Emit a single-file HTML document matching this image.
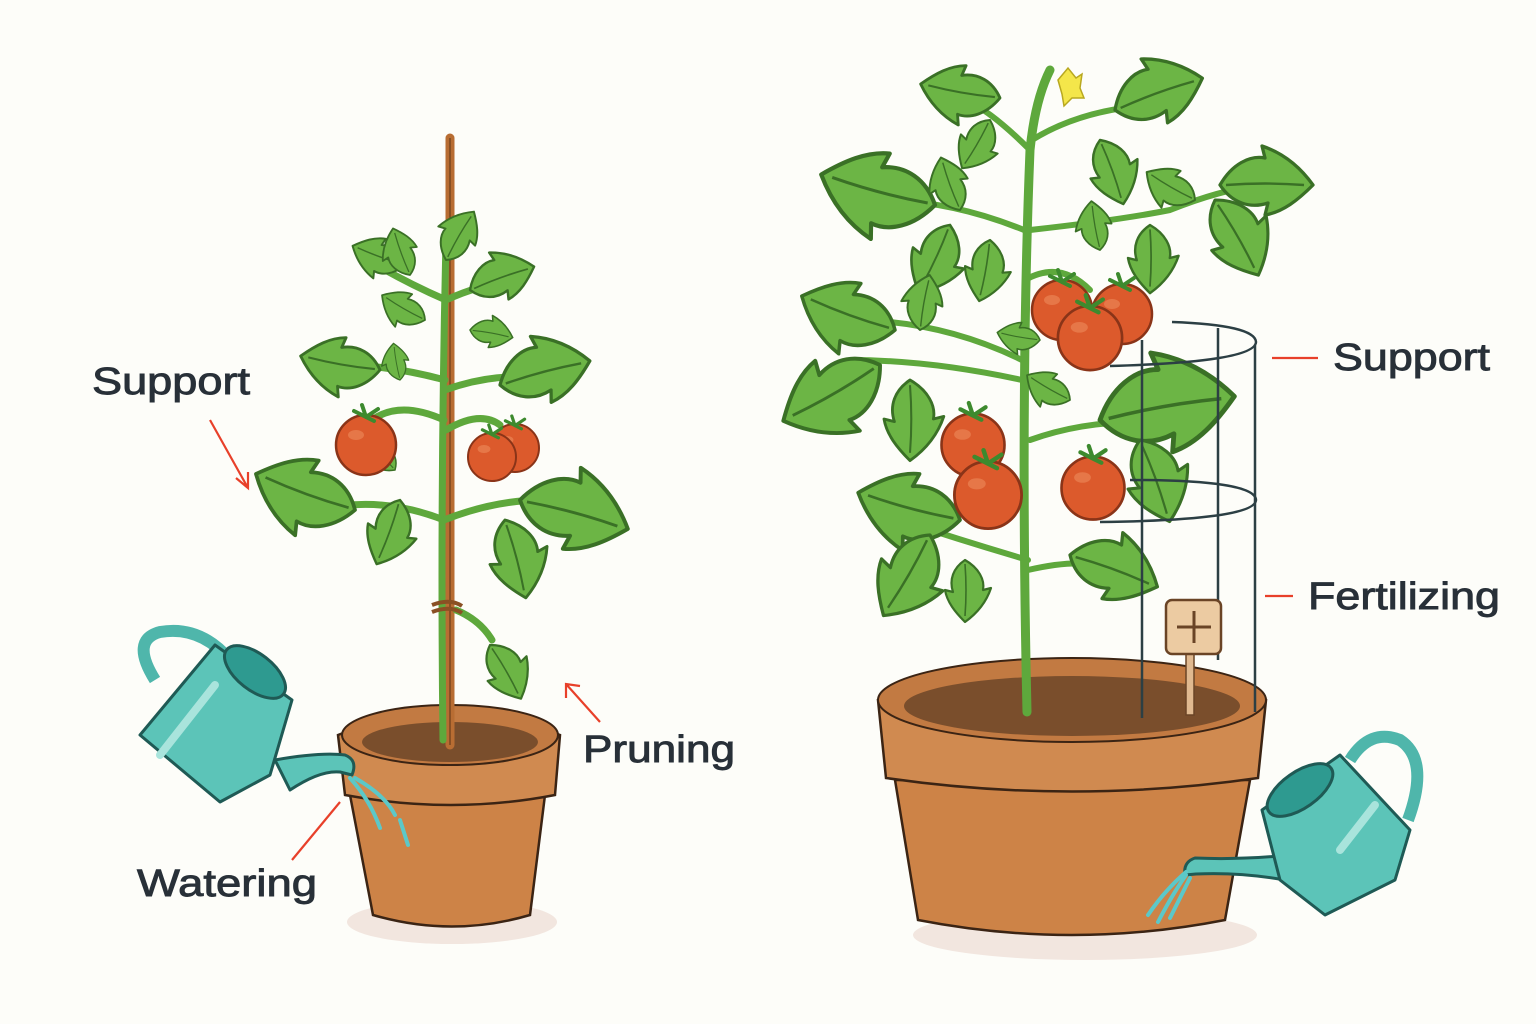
<!DOCTYPE html>
<html><head><meta charset="utf-8"><style>
html,body{margin:0;padding:0;background:#fdfdf9;}
svg{display:block}
text{font-family:"Liberation Sans",sans-serif;fill:#283038;stroke:#283038;stroke-width:0.9;}
</style></head><body>
<svg width="1536" height="1024" viewBox="0 0 1536 1024" xmlns="http://www.w3.org/2000/svg">
<defs>
<g id="lf">
<path d="M0,0 C8,-14 20,-20 30,-18 L28,-26 C40,-22 52,-14 62,0 C52,10 42,18 30,20 L32,12 C20,16 8,12 0,0 Z" fill="#6cb545" stroke="#3a7026" stroke-width="2.2" stroke-linejoin="round"/>
<path d="M4,0 Q30,-2 56,0" fill="none" stroke="#3a7026" stroke-width="1.6"/>
</g>
<g id="tm">
<circle r="30" fill="#dc5a2c" stroke="#8a3418" stroke-width="2.5"/>
<ellipse cx="-10" cy="-10" rx="8" ry="5" fill="#ec8a5c" opacity="0.6"/>
<path d="M0,-28 l-12,-6 M0,-28 l12,-8 M0,-28 l-4,-12 M0,-28 l8,4" stroke="#3d8a2e" stroke-width="4" stroke-linecap="round"/>
</g>
</defs>

<!-- LEFT POT -->
<ellipse cx="452" cy="922" rx="105" ry="22" fill="#f2e6df"/>
<path d="M350,795 L545,795 L530,915 Q452,938 373,915 Z" fill="#cd8347" stroke="#3b2414" stroke-width="2.5"/>
<path d="M338,735 Q450,690 560,735 L555,795 Q452,815 345,795 Z" fill="#d08a50" stroke="#3b2414" stroke-width="2.5"/>
<ellipse cx="450" cy="735" rx="108" ry="30" fill="#c27a42" stroke="#3b2414" stroke-width="2"/>
<ellipse cx="450" cy="742" rx="88" ry="20" fill="#7a4e2c"/>
<line x1="450" y1="138" x2="450" y2="745" stroke="#b86d33" stroke-width="9" stroke-linecap="round"/>
<line x1="450" y1="138" x2="450" y2="745" stroke="#5a3316" stroke-width="1" />

<!-- left plant stems -->
<g stroke="#5ea83c" stroke-width="7" fill="none" stroke-linecap="round">
<path d="M443,740 Q440,500 446,240"/>
<path d="M444,420 Q400,400 372,420"/>
<path d="M446,430 Q480,410 500,425"/>
<path d="M444,520 Q380,495 320,510"/>
<path d="M444,520 Q520,490 590,505"/>
<path d="M445,390 Q500,370 555,380"/>
<path d="M445,380 Q390,365 340,365"/>
<path d="M446,300 Q400,280 360,255"/>
<path d="M446,300 Q490,280 515,285"/>
<path d="M456,610 Q480,620 492,640"/>
</g>
<g>
<use href="#lf" transform="translate(405,265) rotate(-160) scale(0.9)"/>
<use href="#lf" transform="translate(410,275) rotate(-110) scale(0.8)"/>
<use href="#lf" transform="translate(446,260) rotate(-60) scale(0.9)"/>
<use href="#lf" transform="translate(470,290) rotate(-20) scale(1.1)"/>
<use href="#lf" transform="translate(425,320) rotate(-150) scale(0.8)"/>
<use href="#lf" transform="translate(470,330) rotate(10) scale(0.7)"/>
<use href="#lf" transform="translate(380,370) rotate(-170) scale(1.3)"/>
<use href="#lf" transform="translate(400,380) rotate(-100) scale(0.6)"/>
<use href="#lf" transform="translate(500,385) rotate(-15) scale(1.5)"/>
<use href="#lf" transform="translate(355,510) rotate(-160) scale(1.7)"/>
<use href="#lf" transform="translate(400,500) rotate(110) scale(1.1)"/>
<use href="#lf" transform="translate(520,500) rotate(15) scale(1.8)"/>
<use href="#lf" transform="translate(505,520) rotate(75) scale(1.3)"/>
<use href="#lf" transform="translate(395,470) rotate(-130) scale(0.7)"/>
<use href="#lf" transform="translate(490,645) rotate(60) scale(1.0)"/>
</g>
<path d="M432,605 Q450,598 462,606 M432,612 Q450,605 462,613" stroke="#8a5024" stroke-width="4" fill="none"/>
<use href="#tm" transform="translate(366,445)"/>
<use href="#tm" transform="translate(515,448) scale(0.8)"/>
<use href="#tm" transform="translate(492,457) scale(0.8)"/>

<!-- left can -->
<g stroke="#1f5a55" stroke-width="3" stroke-linejoin="round">
<path d="M275,760 Q320,752 345,755 Q358,760 352,775 L340,772 Q320,770 290,790 Z" fill="#5cc4b8"/>
<path d="M155,680 Q130,640 160,632 Q200,625 230,660" fill="none" stroke="#4fb6ab" stroke-width="12"/>
<path d="M140,735 L215,645 L292,700 L270,775 L220,802 Z" fill="#5cc4b8"/>
<ellipse cx="255" cy="672" rx="36" ry="18" transform="rotate(38 255 672)" fill="#2e9a90"/>
<line x1="160" y1="755" x2="215" y2="685" stroke="#a9e4dc" stroke-width="8" stroke-linecap="round"/>
</g>
<g stroke="#5cc8c8" stroke-width="4" fill="none" stroke-linecap="round">
<path d="M350,778 Q370,800 380,828"/><path d="M355,778 Q385,795 395,815"/><path d="M400,820 L408,845"/>
</g>

<!-- left labels -->
<text x="92" y="394" font-size="38" textLength="158" lengthAdjust="spacingAndGlyphs">Support</text>
<text x="583" y="762" font-size="38" textLength="152" lengthAdjust="spacingAndGlyphs">Pruning</text>
<text x="137" y="896" font-size="38" textLength="180" lengthAdjust="spacingAndGlyphs">Watering</text>
<g stroke="#e8402a" stroke-width="2.2" fill="none">
<path d="M210,420 L248,488 M236,478 L248,488 L248,472"/>
<path d="M600,722 L566,684 M566,698 L566,684 L580,686"/>
<path d="M292,860 L340,802"/>
<path d="M1272,358 L1318,358"/>
<path d="M1265,596 L1293,596"/>
</g>

<!-- RIGHT POT -->
<ellipse cx="1085" cy="935" rx="172" ry="25" fill="#f2e6df"/>
<path d="M895,780 L1250,780 L1225,920 Q1072,950 918,920 Z" fill="#cd8347" stroke="#3b2414" stroke-width="2.5"/>
<path d="M878,700 Q1072,640 1266,700 L1258,778 Q1072,805 886,778 Z" fill="#d08a50" stroke="#3b2414" stroke-width="2.5"/>
<ellipse cx="1072" cy="700" rx="194" ry="42" fill="#c27a42" stroke="#3b2414" stroke-width="2"/>
<ellipse cx="1072" cy="706" rx="168" ry="30" fill="#7a4e2c"/>

<!-- right plant -->
<g stroke="#5ea83c" stroke-width="9" fill="none" stroke-linecap="round">
<path d="M1027,712 Q1020,400 1030,150 Q1035,100 1050,70"/>
</g>
<g stroke="#5ea83c" stroke-width="6" fill="none" stroke-linecap="round">
<path d="M1030,150 Q990,110 965,100"/><path d="M1032,140 Q1080,110 1150,105"/>
<path d="M1024,230 Q950,200 880,200"/><path d="M1030,230 Q1120,220 1170,210 Q1220,190 1260,185"/>
<path d="M1022,380 Q930,360 850,360"/><path d="M1022,360 Q940,320 850,320"/>
<path d="M1030,440 Q1100,415 1180,425"/><path d="M1028,560 Q960,540 900,520"/><path d="M1028,570 Q1070,560 1100,565"/>
<path d="M1025,280 Q1060,260 1090,290"/>
</g>
<g>
<use href="#lf" transform="translate(1000,98) rotate(-170) scale(1.3)"/>
<use href="#lf" transform="translate(990,120) rotate(120) scale(0.9)"/>
<use href="#lf" transform="translate(1115,110) rotate(-20) scale(1.5)"/>
<use href="#lf" transform="translate(1100,140) rotate(70) scale(1.1)"/>
<use href="#lf" transform="translate(935,205) rotate(-165) scale(1.9)"/>
<use href="#lf" transform="translate(960,210) rotate(-110) scale(0.9)"/>
<use href="#lf" transform="translate(950,225) rotate(115) scale(1.2)"/>
<use href="#lf" transform="translate(990,240) rotate(100) scale(1.0)"/>
<use href="#lf" transform="translate(1220,185) rotate(0) scale(1.5)"/>
<use href="#lf" transform="translate(1195,200) rotate(-150) scale(0.9)"/>
<use href="#lf" transform="translate(1215,200) rotate(60) scale(1.4)"/>
<use href="#lf" transform="translate(1150,225) rotate(90) scale(1.1)"/>
<use href="#lf" transform="translate(1100,250) rotate(-100) scale(0.8)"/>
<use href="#lf" transform="translate(895,330) rotate(-160) scale(1.6)"/>
<use href="#lf" transform="translate(920,330) rotate(-80) scale(0.9)"/>
<use href="#lf" transform="translate(880,365) rotate(150) scale(1.8)"/>
<use href="#lf" transform="translate(910,380) rotate(90) scale(1.3)"/>
<use href="#lf" transform="translate(1100,420) rotate(-10) scale(2.2)"/>
<use href="#lf" transform="translate(1070,400) rotate(-150) scale(0.8)"/>
<use href="#lf" transform="translate(1140,440) rotate(70) scale(1.4)"/>
<use href="#lf" transform="translate(960,520) rotate(-165) scale(1.7)"/>
<use href="#lf" transform="translate(930,535) rotate(120) scale(1.5)"/>
<use href="#lf" transform="translate(965,560) rotate(90) scale(1.0)"/>
<use href="#lf" transform="translate(1070,555) rotate(20) scale(1.5)"/>
<use href="#lf" transform="translate(1040,340) rotate(-170) scale(0.7)"/>
</g>
<path d="M1058,80 l10,-12 l8,10 l6,-4 l-2,14 l4,10 l-12,0 l-8,8 l-2,-12 Z" fill="#f4e64a" stroke="#b8a820" stroke-width="1.5"/>
<use href="#tm" transform="translate(1062,310)"/>
<use href="#tm" transform="translate(1122,314)"/>
<use href="#tm" transform="translate(1090,338) scale(1.07)"/>
<use href="#tm" transform="translate(973,445) scale(1.05)"/>
<use href="#tm" transform="translate(1093,488) scale(1.05)"/>
<use href="#tm" transform="translate(988,495) scale(1.12)"/>

<!-- cage -->
<g stroke="#2c3f44" stroke-width="2.5" fill="none">
<line x1="1142" y1="340" x2="1142" y2="718"/>
<line x1="1218" y1="328" x2="1218" y2="660"/>
<line x1="1255" y1="345" x2="1255" y2="712"/>
<path d="M1172,322 Q1255,325 1256,342 Q1255,362 1110,366"/>
<path d="M1130,480 Q1255,480 1256,500 Q1255,520 1100,522"/>
</g>
<!-- sign -->
<rect x="1186" y="650" width="8" height="65" fill="#e0b990" stroke="#6a4426" stroke-width="1.5"/>
<rect x="1166" y="600" width="55" height="54" rx="6" fill="#eccba2" stroke="#6a4426" stroke-width="2.5"/>
<path d="M1177,627 L1211,627 M1194,611 L1194,643" stroke="#6a4426" stroke-width="3"/>

<!-- right can -->
<g stroke="#1f5a55" stroke-width="3" stroke-linejoin="round">
<path d="M1290,855 Q1240,860 1195,858 Q1183,862 1185,875 L1196,874 Q1240,872 1285,880 Z" fill="#5cc4b8"/>
<path d="M1350,760 Q1370,728 1400,740 Q1430,760 1408,820" fill="none" stroke="#4fb6ab" stroke-width="12"/>
<path d="M1262,810 L1340,755 L1410,830 L1395,880 L1325,915 L1280,880 Z" fill="#5cc4b8"/>
<ellipse cx="1300" cy="790" rx="38" ry="18" transform="rotate(-35 1300 790)" fill="#2e9a90"/>
<line x1="1340" y1="850" x2="1375" y2="805" stroke="#a9e4dc" stroke-width="8" stroke-linecap="round"/>
</g>
<g stroke="#5cc8c8" stroke-width="4" fill="none" stroke-linecap="round">
<path d="M1186,872 Q1165,890 1148,915"/><path d="M1186,875 Q1172,895 1158,922"/><path d="M1190,878 Q1180,898 1170,918"/>
</g>

<text x="1333" y="370" font-size="38" textLength="157" lengthAdjust="spacingAndGlyphs">Support</text>
<text x="1308" y="609" font-size="38" textLength="192" lengthAdjust="spacingAndGlyphs">Fertilizing</text>
</svg>
</body></html>
